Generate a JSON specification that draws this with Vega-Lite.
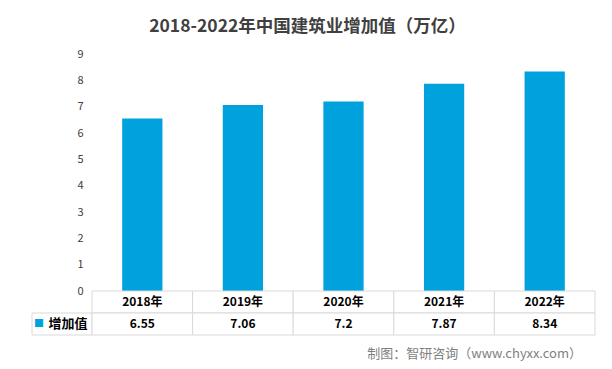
{
  "$schema": "https://vega.github.io/schema/vega-lite/v6.json",
  "padding": {"left": 31, "top": 17, "right": 18, "bottom": 2},
  "background": "white",
  "title": {
    "text": "2018-2022年中国建筑业增加值（万亿）",
    "font": "Noto Sans CJK SC",
    "fontSize": 17.5,
    "fontWeight": "bold",
    "color": "#404040",
    "anchor": "middle",
    "offset": 13,
    "dx": -6
  },
  "datasets": {
    "main": [
      {"year": "2018年", "value": 6.55, "label": "6.55"},
      {"year": "2019年", "value": 7.06, "label": "7.06"},
      {"year": "2020年", "value": 7.2, "label": "7.2"},
      {"year": "2021年", "value": 7.87, "label": "7.87"},
      {"year": "2022年", "value": 8.34, "label": "8.34"}
    ],
    "legend": [{"series": "增加值", "symbol": "■"}],
    "source": [{"text": "制图：智研咨询（www.chyxx.com）"}]
  },
  "columns": 2,
  "spacing": 0,
  "bounds": "flush",
  "config": {
    "view": {"stroke": null},
    "font": "Noto Sans CJK SC"
  },
  "concat": [
    {
      "width": 60,
      "height": 237,
      "data": {"values": []},
      "mark": {"type": "text"},
      "encoding": {}
    },
    {
      "width": 503,
      "height": 237,
      "data": {"name": "main"},
      "mark": {"type": "bar", "color": "#00A2DE"},
      "encoding": {
        "x": {"field": "year", "type": "ordinal", "scale": {"paddingInner": 0.6, "paddingOuter": 0.3}, "axis": null},
        "y": {
          "field": "value",
          "type": "quantitative",
          "scale": {"domain": [0, 9], "nice": false},
          "axis": {
            "title": null,
            "values": [0, 1, 2, 3, 4, 5, 6, 7, 8, 9],
            "domain": false,
            "ticks": false,
            "grid": false,
            "labelPadding": 9,
            "labelFontSize": 11,
            "labelColor": "#404040",
            "labelFont": "Noto Sans CJK SC"
          }
        }
      }
    },
    {
      "width": 60,
      "height": 44,
      "data": {"name": "legend"},
      "layer": [
        {
          "mark": {"type": "rect", "fill": "white", "stroke": "#d9d9d9", "strokeWidth": 1},
          "encoding": {
            "y": {"datum": "value", "type": "nominal", "scale": {"domain": ["header", "value"], "paddingInner": 0, "paddingOuter": 0}, "axis": null}
          }
        },
        {
          "mark": {"type": "text", "color": "#00A2DE", "fontSize": 10, "dx": -23},
          "encoding": {
            "y": {"datum": "value", "type": "nominal"},
            "text": {"field": "symbol", "type": "nominal"}
          }
        },
        {
          "mark": {"type": "text", "color": "#000000", "fontSize": 13, "fontWeight": "bold", "dx": 6},
          "encoding": {
            "y": {"datum": "value", "type": "nominal"},
            "text": {"field": "series", "type": "nominal"}
          }
        }
      ]
    },
    {
      "width": 503,
      "height": 44,
      "data": {"name": "main"},
      "encoding": {
        "x": {"field": "year", "type": "ordinal", "scale": {"paddingInner": 0, "paddingOuter": 0}, "axis": null}
      },
      "layer": [
        {
          "mark": {"type": "rect", "fill": "white", "stroke": "#d9d9d9", "strokeWidth": 1},
          "encoding": {
            "y": {"datum": "header", "type": "nominal", "scale": {"domain": ["header", "value"], "paddingInner": 0, "paddingOuter": 0}, "axis": null}
          }
        },
        {
          "mark": {"type": "rect", "fill": "white", "stroke": "#d9d9d9", "strokeWidth": 1},
          "encoding": {
            "y": {"datum": "value", "type": "nominal"}
          }
        },
        {
          "mark": {"type": "text", "color": "#000000", "fontSize": 12, "fontWeight": "bold"},
          "encoding": {
            "y": {"datum": "header", "type": "nominal"},
            "text": {"field": "year", "type": "nominal"}
          }
        },
        {
          "mark": {"type": "text", "color": "#000000", "fontSize": 12, "fontWeight": "bold"},
          "encoding": {
            "y": {"datum": "value", "type": "nominal"},
            "text": {"field": "label", "type": "nominal"}
          }
        }
      ]
    },
    {
      "width": 60,
      "height": 34,
      "data": {"values": []},
      "mark": {"type": "text"},
      "encoding": {}
    },
    {
      "width": 503,
      "height": 34,
      "data": {"name": "source"},
      "mark": {"type": "text", "align": "right", "color": "#7f7f7f", "fontSize": 13, "dx": -13, "dy": 2},
      "encoding": {
        "x": {"value": "width"},
        "text": {"field": "text", "type": "nominal"}
      }
    }
  ]
}
